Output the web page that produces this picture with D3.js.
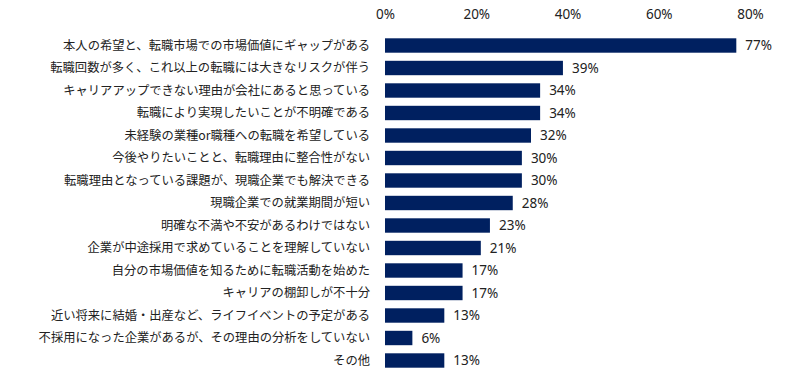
<!DOCTYPE html>
<html><head><meta charset="utf-8">
<script src="https://cdn.jsdelivr.net/npm/d3@7"></script>
<style>body{margin:0;background:#fff}svg{display:block}</style>
</head><body>
<script>
const categories = [
 "本人の希望と、転職市場での市場価値にギャップがある",
 "転職回数が多く、これ以上の転職には大きなリスクが伴う",
 "キャリアアップできない理由が会社にあると思っている",
 "転職により実現したいことが不明確である",
 "未経験の業種or職種への転職を希望している",
 "今後やりたいことと、転職理由に整合性がない",
 "転職理由となっている課題が、現職企業でも解決できる",
 "現職企業での就業期間が短い",
 "明確な不満や不安があるわけではない",
 "企業が中途採用で求めていることを理解していない",
 "自分の市場価値を知るために転職活動を始めた",
 "キャリアの棚卸しが不十分",
 "近い将来に結婚・出産など、ライフイベントの予定がある",
 "不採用になった企業があるが、その理由の分析をしていない",
 "その他"
];
const values = [77,39,34,34,32,30,30,28,23,21,17,17,13,6,13];
const tickValues = [0,20,40,60,80];

const W=800,H=387;
const svg=d3.select("body").append("svg").attr("width",W).attr("height",H);
const x=d3.scaleLinear().domain([0,80]).range([385,750]);
const y=d3.scaleBand().domain(categories).range([34.25,371.75]).paddingInner(0.36).paddingOuter(0.18);
const font='"Noto Sans CJK JP", "Noto Sans", sans-serif';
const numFont='"Noto Sans", sans-serif';

// top axis
const ax=svg.append("g").attr("transform","translate(0,18.5)")
 .call(d3.axisTop(x).tickValues(tickValues).tickFormat(d=>d+"%").tickSize(0).tickPadding(0));
ax.select(".domain").remove();
ax.selectAll("text").attr("font-family",numFont).attr("font-size",13.5).attr("fill","#222");

svg.append("g").selectAll("rect").data(categories).join("rect")
 .attr("x",x(0)).attr("y",d=>y(d)).attr("width",(d,i)=>x(values[i])-x(0)).attr("height",y.bandwidth())
 .attr("fill","#002060");

svg.append("g").selectAll("text").data(categories).join("text")
 .attr("x",370).attr("y",d=>y(d)+y.bandwidth()/2).attr("dy","0.35em")
 .attr("text-anchor","end").attr("font-family",font).attr("font-size",12.3).attr("fill","#222")
 .text(d=>d);

svg.append("g").selectAll("text").data(values).join("text")
 .attr("x",d=>x(d)+9).attr("y",(d,i)=>y(categories[i])+y.bandwidth()/2).attr("dy","0.36em")
 .attr("font-family",numFont).attr("font-size",13.5).attr("fill","#222")
 .text(d=>d+"%");
</script>
</body></html>
